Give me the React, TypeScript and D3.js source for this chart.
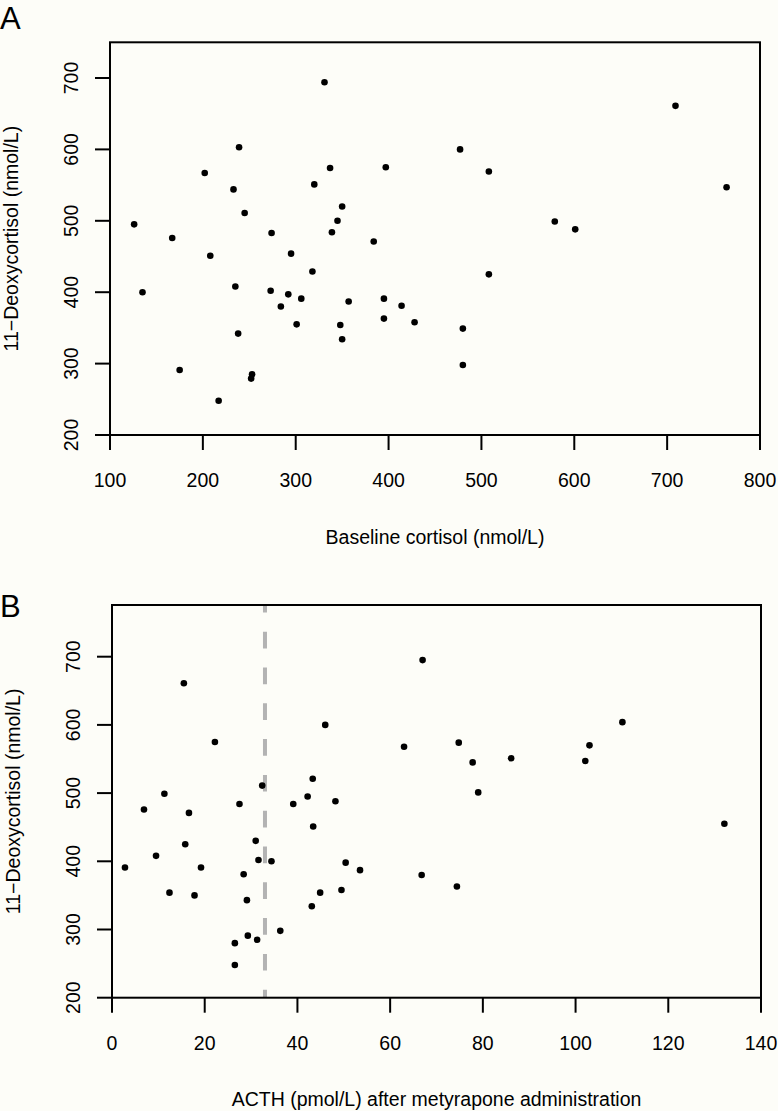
import React from "react";
import * as d3 from "d3";

// Panel A: baseline cortisol vs 11-deoxycortisol
const baselineCortisol = [126, 135, 167, 175, 202, 208, 217, 233, 235, 238, 239, 245, 252, 253, 273, 274, 284, 292, 295, 301, 306, 318, 320, 331, 337, 339, 345, 348, 350, 350, 357, 384, 395, 395, 397, 414, 428, 477, 480, 480, 508, 508, 579, 601, 709, 764];
const deoxyA = [495, 400, 476, 291, 567, 451, 248, 544, 408, 342, 603, 511, 279, 285, 402, 483, 380, 397, 454, 355, 391, 429, 551, 694, 574, 484, 500, 354, 334, 520, 387, 471, 391, 363, 575, 381, 358, 600, 349, 298, 569, 425, 499, 488, 661, 547];

// Panel B: ACTH after metyrapone vs 11-deoxycortisol
const acth = [2.8, 6.9, 9.5, 11.3, 12.4, 15.5, 15.8, 16.6, 17.8, 19.2, 22.2, 26.5, 26.5, 27.5, 28.4, 29.1, 29.3, 31.0, 31.3, 31.6, 32.4, 34.4, 36.3, 39.1, 42.2, 43.1, 43.3, 43.4, 44.9, 46.0, 48.2, 49.5, 50.4, 53.5, 63.0, 66.8, 67.0, 74.4, 74.8, 77.8, 79.0, 86.1, 102.1, 103.0, 110.1, 132.1];
const deoxyB = [391, 476, 408, 499, 354, 661, 425, 471, 350, 391, 575, 280, 248, 484, 381, 343, 291, 430, 285, 402, 511, 400, 298, 484, 495, 334, 521, 451, 354, 600, 488, 358, 398, 387, 568, 380, 695, 363, 574, 545, 501, 551, 547, 570, 604, 455];

const xTicksA = [100, 200, 300, 400, 500, 600, 700, 800];
const yTicks = [200, 300, 400, 500, 600, 700];
const xTicksB = [0, 20, 40, 60, 80, 100, 120, 140];
const acthCutoff = 33;

const FONT = "'Liberation Sans', Arial, Helvetica, sans-serif";
const FS = 19.5;

type PanelProps = {
  letter: string;
  letterY: number;
  left: number; right: number; top: number; bottom: number;
  xDomain: [number, number];
  yDomain: [number, number];
  xTicks: number[];
  xs: number[]; ys: number[];
  xTitle: string;
  xLabelY: number; xTitleY: number;
  yLabelX: number; yTitleX: number;
  cutoff?: number;
};

function Panel(p: PanelProps) {
  const x = d3.scaleLinear().domain(p.xDomain).range([p.left, p.right]);
  const y = d3.scaleLinear().domain(p.yDomain).range([p.bottom, p.top]);
  const tick = 15;
  const cy = (p.top + p.bottom) / 2;
  const cx = (p.left + p.right) / 2;
  return (
    <g>
      <text x={0} y={p.letterY} fontSize={31} fontFamily={FONT} fill="#000">{p.letter}</text>
      {p.cutoff !== undefined && (
        <line x1={x(p.cutoff)} x2={x(p.cutoff)} y1={p.top} y2={p.bottom}
          stroke="#b3b3b3" strokeWidth={4} strokeDasharray="16.7 19.1" strokeDashoffset={9.1} />
      )}
      {p.xs.map((v, i) => (
        <circle key={i} cx={x(v)} cy={y(p.ys[i])} r={3.3} fill="#000" />
      ))}
      <rect x={p.left} y={p.top} width={p.right - p.left} height={p.bottom - p.top}
        fill="none" stroke="#000" strokeWidth={2} />
      {p.xTicks.map((t) => (
        <g key={"x" + t}>
          <line x1={x(t)} x2={x(t)} y1={p.bottom} y2={p.bottom + tick} stroke="#000" strokeWidth={2} />
          <text x={x(t)} y={p.xLabelY} textAnchor="middle" fontSize={FS} fontFamily={FONT} fill="#000">{t}</text>
        </g>
      ))}
      {yTicks.map((t) => (
        <g key={"y" + t}>
          <line x1={p.left - tick} x2={p.left} y1={y(t)} y2={y(t)} stroke="#000" strokeWidth={2} />
          <text transform={`translate(${p.yLabelX},${y(t)}) rotate(-90)`} textAnchor="middle"
            fontSize={FS} fontFamily={FONT} fill="#000">{t}</text>
        </g>
      ))}
      <text x={cx} y={p.xTitleY} textAnchor="middle" fontSize={FS} fontFamily={FONT} fill="#000">{p.xTitle}</text>
      <text transform={`translate(${p.yTitleX},${cy}) rotate(-90)`} textAnchor="middle"
        fontSize={FS} fontFamily={FONT} fill="#000">11−Deoxycortisol (nmol/L)</text>
    </g>
  );
}

export default function App() {
  return (
    <svg width={778} height={1111} style={{ position: "absolute", left: 0, top: 0, display: "block" }}>
      <rect x={0} y={0} width={778} height={1111} fill="#fdfdf8" />
      <Panel letter="A" letterY={28.5} left={110} right={760} top={42.3} bottom={435}
        xDomain={[100, 800]} yDomain={[200, 750]} xTicks={xTicksA}
        xs={baselineCortisol} ys={deoxyA} xTitle="Baseline cortisol (nmol/L)"
        xLabelY={487} xTitleY={544} yLabelX={78} yTitleX={18} />
      <Panel letter="B" letterY={616.5} left={112} right={761} top={605} bottom={997.7}
        xDomain={[0, 140]} yDomain={[200, 775.8]} xTicks={xTicksB}
        xs={acth} ys={deoxyB} xTitle="ACTH (pmol/L) after metyrapone administration"
        xLabelY={1050} xTitleY={1106} yLabelX={80} yTitleX={20} cutoff={acthCutoff} />
    </svg>
  );
}
